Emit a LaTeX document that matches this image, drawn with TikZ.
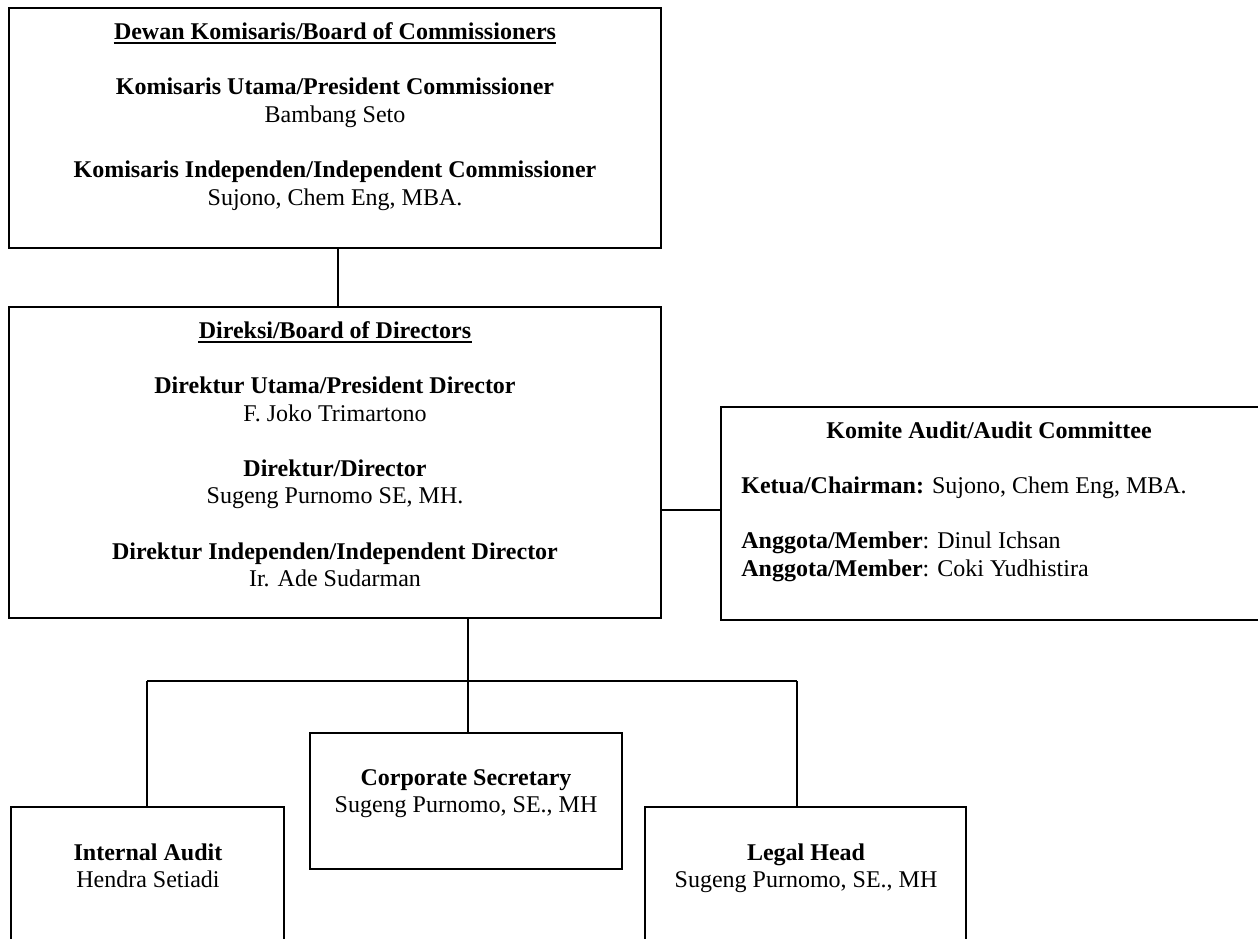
\documentclass[tikz,border=0pt]{standalone}
\usepackage{fontspec}
\setmainfont{Liberation Serif}
\usetikzlibrary{fit}
\begin{document}
\begin{tikzpicture}[x=0.5pt,y=-0.5pt,
  box/.style={draw, line width=1.2pt, inner sep=0pt},
  conn/.style={line width=0.9pt},
  t/.style={inner sep=0pt, anchor=base, font=\fontsize{12pt}{13.8pt}\selectfont},
  tb/.style={t, font=\fontsize{12pt}{13.8pt}\selectfont\bfseries},
  tl/.style={t, anchor=base west},
  uline/.style={line width=0.7pt}]
\clip (0,0) rectangle (1258,938);
\fill[white] (0,0) rectangle (1258,938);

% boxes
\node[box, fit={(9,8)(661,248)}] (bk) {};
\node[box, fit={(9,307)(661,618)}] (bd) {};
\node[box, fit={(721,407)(1275,620)}] (ba) {};
\node[box, fit={(310,733)(622,869)}] (bcs) {};
\node[box, fit={(11,807)(284,955)}] (bia) {};
\node[box, fit={(645,807)(966,955)}] (blh) {};

% Board of Commissioners
\node[tb] (k0) at (335,39) {Dewan Komisaris/Board of Commissioners};
\draw[uline] ([yshift=-2pt]k0.base west) -- ([yshift=-2pt]k0.base east);
\node[tb] (k1) at (335,94) {Komisaris Utama/President Commissioner};
\node[t] (k2) at (335,122) {Bambang Seto};
\node[tb] (k3) at (335,177) {Komisaris Independen/Independent Commissioner};
\node[t] (k4) at (335,205) {Sujono, Chem Eng, MBA.};

% Board of Directors
\node[tb] (d0) at (335,338) {Direksi/Board of Directors};
\draw[uline] ([yshift=-2pt]d0.base west) -- ([yshift=-2pt]d0.base east);
\node[tb] (d1) at (335,393) {Direktur Utama/President Director};
\node[t] (d2) at (335,421) {F. Joko Trimartono};
\node[tb] (d3) at (335,476) {Direktur/Director};
\node[t] (d4) at (335,503) {Sugeng Purnomo SE, MH.};
\node[tb] (d5) at (335,559) {Direktur Independen/Independent Director};
\node[t] (d6) at (335,586) {Ir. Ade Sudarman};

% Audit Committee
\node[tb] (a0) at (989,438) {Komite Audit/Audit Committee};
\node[tl] (a1) at (741,493) {\textbf{Ketua/Chairman:} Sujono, Chem Eng, MBA.};
\node[tl] (a2) at (741,548) {\textbf{Anggota/Member}: Dinul Ichsan};
\node[tl] (a3) at (741,576) {\textbf{Anggota/Member}: Coki Yudhistira};

% Corporate Secretary
\node[tb] (c0) at (466,785) {Corporate Secretary};
\node[t] (c1) at (466,812) {Sugeng Purnomo, SE., MH};

% Internal Audit
\node[tb] (i0) at (148,860) {Internal Audit};
\node[t] (i1) at (148,887) {Hendra Setiadi};

% Legal Head
\node[tb] (l0) at (806,860) {Legal Head};
\node[t] (l1) at (806,887) {Sugeng Purnomo, SE., MH};

% connectors
\coordinate (x1) at (338,0);
\draw[conn] (x1 |- bk.south) -- (x1 |- bd.north);
\coordinate (ya) at (0,510);
\draw[conn] (bd.east |- ya) -- (ba.west |- ya);
\coordinate (x2) at (468,0);
\draw[conn] (x2 |- bd.south) -- (x2 |- bcs.north);
\coordinate (hl) at (147,681);
\coordinate (hr) at (797,681);
\draw[conn] (hl) -- (hr);
\draw[conn] (hl) -- (hl |- bia.north);
\draw[conn] (hr) -- (hr |- blh.north);
\end{tikzpicture}
\end{document}
